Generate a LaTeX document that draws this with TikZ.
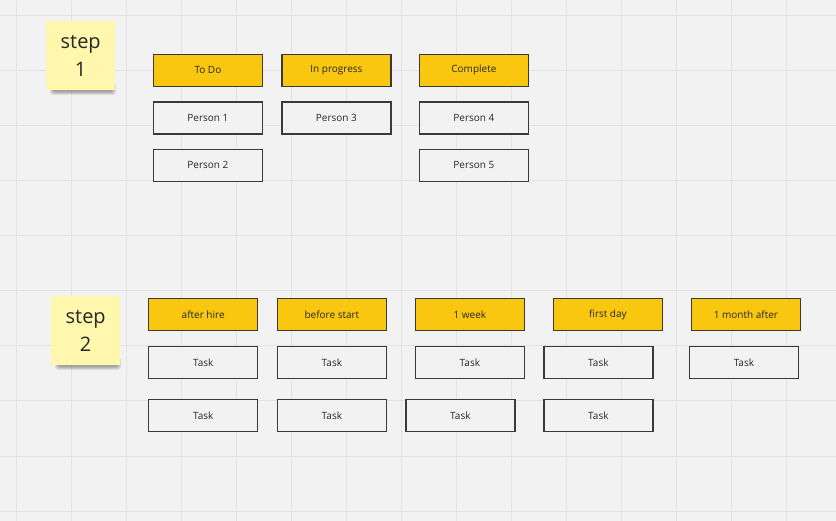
\documentclass[tikz,border=0pt]{standalone}
\usepackage{fontspec}
\setmainfont{Open Sans}
\definecolor{bg}{HTML}{F2F2F2}
\definecolor{gridc}{HTML}{E2E2E2}
\definecolor{hdryellow}{HTML}{FAC710}
\definecolor{boxline}{HTML}{3A3A3A}
\definecolor{txt}{HTML}{262626}
\definecolor{stickyy}{HTML}{FFF7AE}
\begin{document}
\begin{tikzpicture}[x=1pt,y=-1pt,
  card/.style={draw=boxline, line width=1.4pt, minimum width=109pt, minimum height=32pt,
    inner sep=0pt, font=\fontsize{10}{12}\selectfont, text=txt, anchor=north west},
  hdr/.style={card, fill=hdryellow},
  taskbox/.style={card, fill=bg},
  sticky/.style={fill=stickyy, minimum width=69pt, minimum height=69pt, anchor=north west,
    align=center, font=\fontsize{20}{28}\selectfont, text=txt, inner sep=0pt},
  shadowlayer/.style={fill=black, opacity=0.09, rounded corners=3pt}]
\fill[bg] (0,0) rectangle (836,521);
\useasboundingbox (0,0) rectangle (836,521);
\foreach \x in {16,71,...,836} \draw[gridc, line width=1pt] (\x,0) -- (\x,521);
\foreach \y in {16,71,...,521} \draw[gridc, line width=1pt] (0,\y) -- (836,\y);

% sticky shadows
\foreach \d in {0,1,2,3} {
  \fill[shadowlayer] (53-\d,85-\d) rectangle (113+\d,92+\d);
  \fill[shadowlayer] (58-\d,360-\d) rectangle (118+\d,367+\d);
}
\node[sticky] (s1) at (46,21) {step\\1};
\node[sticky] (s2) at (51,296) {step\\2};

% step 1
\node[hdr] (todo) at (152.7,53.7) {To Do};
\node[hdr] (inprog) at (281.2,53.7) {In progress};
\node[hdr] (complete) at (418.7,53.7) {Complete};
\node[taskbox] (p1) at (152.7,101.2) {Person 1};
\node[taskbox] (p3) at (281.2,101.2) {Person 3};
\node[taskbox] (p4) at (418.7,101.2) {Person 4};
\node[taskbox] (p2) at (152.7,148.7) {Person 2};
\node[taskbox] (p5) at (418.7,148.7) {Person 5};

% step 2
\node[hdr] (afterhire) at (148,298) {after hire};
\node[hdr] (beforestart) at (276.7,298) {before start};
\node[hdr] (week) at (414.7,298) {1 week};
\node[hdr] (firstday) at (552.7,298) {first day};
\node[hdr] (month) at (690.7,298) {1 month after};
\node[taskbox] (t1) at (148,346) {Task};
\node[taskbox] (t2) at (276.7,346) {Task};
\node[taskbox] (t3) at (414.7,346) {Task};
\node[taskbox] (t4) at (543.2,346) {Task};
\node[taskbox] (t5) at (688.7,346) {Task};
\node[taskbox] (t6) at (148,398.7) {Task};
\node[taskbox] (t7) at (276.7,398.7) {Task};
\node[taskbox] (t8) at (405.2,398.7) {Task};
\node[taskbox] (t9) at (543.2,398.7) {Task};
\end{tikzpicture}
\end{document}
